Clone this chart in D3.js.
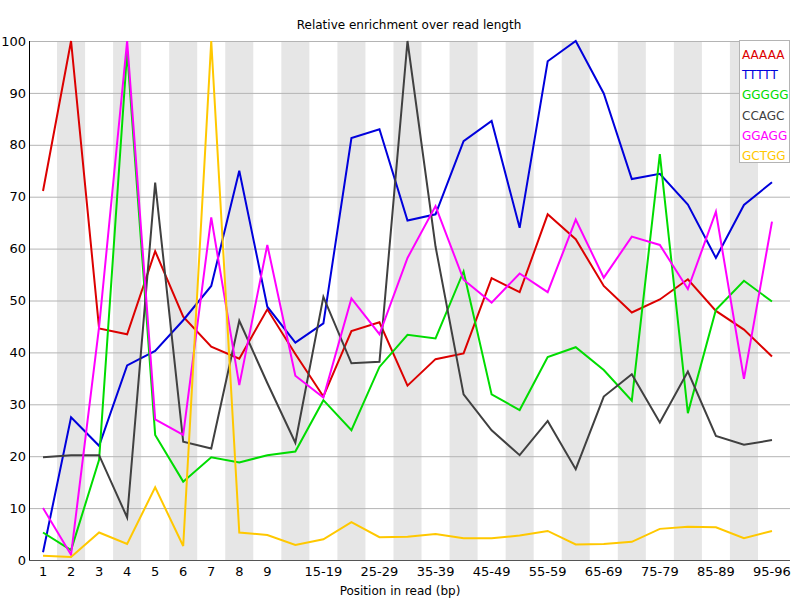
<!DOCTYPE html>
<html>
<head>
<meta charset="utf-8">
<script src="https://cdn.jsdelivr.net/npm/d3@7"></script>
<style>
  body { margin: 0; background: #fff; }
  svg text { font-family: "DejaVu Sans", sans-serif; }
</style>
</head>
<body>
<svg id="chart" width="800" height="600"></svg>
<script>
const categories = ["1","2","3","4","5","6","7","8","9","10-14","15-19","20-24","25-29","30-34","35-39","40-44","45-49","50-54","55-59","60-64","65-69","70-74","75-79","80-84","85-89","90-94","95-96"];
const yTicks = [0,10,20,30,40,50,60,70,80,90,100];
const seriesNames = ["AAAAA","TTTTT","GGGGG","CCAGC","GGAGG","GCTGG"];
const seriesColors = ["#dc0000","#0000dc","#00dc00","#404040","#ff00ff","#ffc800"];

const aaaaa = [71.1,100,44.6,43.5,59.5,46.9,41.1,38.8,48.3,39.7,31.5,44.1,45.8,33.6,38.7,39.8,54.3,51.6,66.6,61.8,52.8,47.7,50.2,54.1,48.0,44.4,39.2];
const ttttt = [1.5,27.5,22.0,37.5,40.3,46.2,52.8,75.0,48.8,41.9,45.6,81.3,83.0,65.4,66.6,80.7,84.6,64.0,96.1,100,89.9,73.4,74.4,68.5,58.2,68.4,72.8];
const ggggg = [5.3,1.9,19.3,98,24.1,15.1,19.8,18.8,20.2,20.9,30.8,25.0,37.2,43.4,42.7,55.6,31.9,28.9,39.1,41.0,36.6,30.7,78.2,28.3,48.2,53.8,49.8];
const ccagc = [19.8,20.2,20.2,8.2,72.7,22.8,21.5,46.1,34.1,22.6,50.7,37.9,38.2,100,60.4,31.9,25.0,20.2,26.8,17.5,31.5,35.8,26.5,36.3,23.9,22.2,23.1];
const ggagg = [10.0,1.0,44.9,100,27.1,24.1,66.0,33.7,60.7,35.5,31.3,50.4,43.5,58.2,68.2,54.0,49.6,55.2,51.6,65.6,54.4,62.3,60.7,52.2,67.1,34.9,65.2];
const gctgg = [0.8,0.6,5.3,3.1,14.0,2.7,100,5.3,4.8,2.9,4.0,7.3,4.4,4.5,5.0,4.2,4.2,4.7,5.6,3.0,3.1,3.5,6.0,6.4,6.3,4.2,5.6];
const seriesValues = [aaaaa, ttttt, ggggg, ccagc, ggagg, gctgg];

const svg = d3.select("#chart");
const plotLeft = 29, plotRight = 786, gridRight = 790, plotTop = 41, plotBottom = 560;

const x = d3.scaleBand().domain(categories).range([plotLeft, plotRight]).padding(0);
const y = d3.scaleLinear().domain([0, 100]).range([plotBottom, plotTop]);
const cx = c => x(c) + x.bandwidth() / 2;

// stripes
svg.append("g").selectAll("rect")
  .data(categories.filter((c, i) => i % 2 === 1))
  .join("rect")
  .attr("x", c => x(c)).attr("y", plotTop)
  .attr("width", x.bandwidth()).attr("height", plotBottom - plotTop)
  .attr("fill", "#e6e6e6");

// gridlines
svg.append("g").selectAll("line")
  .data(yTicks.filter(t => t > 0))
  .join("line")
  .attr("x1", plotLeft + 1).attr("x2", gridRight)
  .attr("y1", t => y(t) + 0.5).attr("y2", t => y(t) + 0.5)
  .attr("stroke", "#b4b4b4").attr("stroke-width", 1);

// y axis labels
const yAxis = d3.axisLeft(y).tickValues(yTicks).tickSize(0).tickPadding(4);
const yg = svg.append("g").attr("transform", `translate(${plotLeft + 1},0)`).call(yAxis);
yg.select(".domain").remove();
yg.selectAll("text").attr("font-size", 13).attr("fill", "#000")
  .attr("font-family", "DejaVu Sans, sans-serif");

// axes lines
svg.append("line").attr("x1", plotLeft + 0.5).attr("x2", plotLeft + 0.5).attr("y1", plotTop).attr("y2", plotBottom)
  .attr("stroke", "#000").attr("stroke-width", 1);
svg.append("line").attr("x1", plotLeft).attr("x2", gridRight).attr("y1", plotBottom + 0.5).attr("y2", plotBottom + 0.5)
  .attr("stroke", "#555").attr("stroke-width", 1);

// x labels with overlap skipping
const xg = svg.append("g");
let lastEnd = -Infinity;
categories.forEach(c => {
  const t = xg.append("text").attr("x", cx(c)).attr("y", 576)
    .attr("text-anchor", "middle").attr("font-size", 13).attr("fill", "#000").text(c);
  const w = t.node().getComputedTextLength();
  const start = cx(c) - w / 2;
  if (start > lastEnd) { lastEnd = start + w + 10; }
  else { t.remove(); }
});

// lines
const line = d3.line().x((d, i) => cx(categories[i])).y(d => y(d));
seriesValues.forEach((vals, k) => {
  svg.append("path").datum(vals)
    .attr("d", line).attr("fill", "none")
    .attr("stroke", seriesColors[k]).attr("stroke-width", 2)
    .attr("stroke-linejoin", "miter");
});

// title and axis title
svg.append("text").attr("x", 409).attr("y", 29).attr("text-anchor", "middle")
  .attr("font-size", 12).attr("fill", "#000").text("Relative enrichment over read length");
svg.append("text").attr("x", 400).attr("y", 595).attr("text-anchor", "middle")
  .attr("font-size", 12).attr("fill", "#000").text("Position in read (bp)");

// legend
const lg = svg.append("g");
lg.append("rect").attr("x", 739.5).attr("y", 40.5).attr("width", 50).attr("height", 122)
  .attr("fill", "#fff").attr("stroke", "#b4b4b4");
seriesNames.forEach((n, i) => {
  lg.append("text").attr("x", 742).attr("y", 59 + i * 20.2)
    .attr("font-size", 12).attr("fill", seriesColors[i]).text(n);
});
</script>
</body>
</html>
